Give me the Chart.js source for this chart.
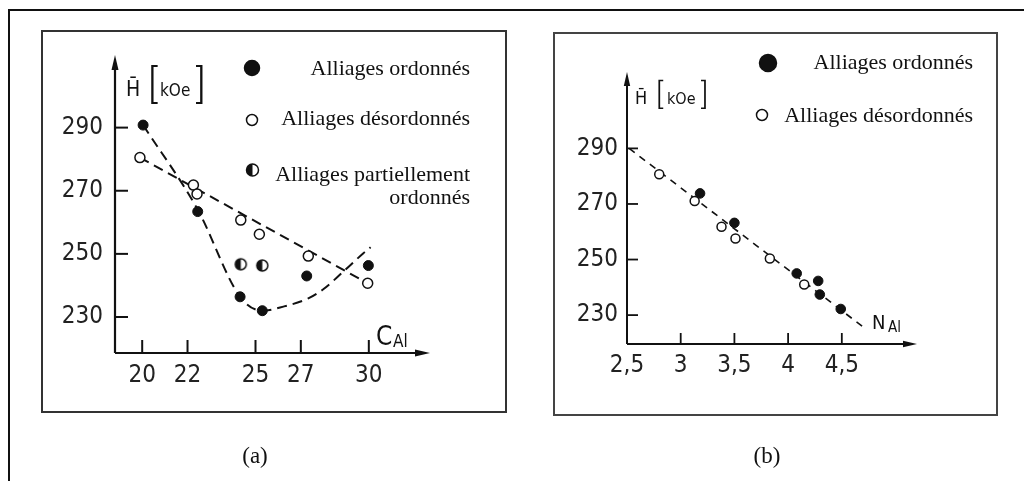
<!DOCTYPE html>
<html><head><meta charset="utf-8">
<script src="https://cdn.jsdelivr.net/npm/chart.js@4/dist/chart.umd.min.js"></script>
<style>
html,body{margin:0;padding:0;background:#fff;width:1024px;height:481px;overflow:hidden;position:relative}
.f{position:absolute;box-sizing:border-box}
canvas{position:absolute;left:0;top:0}
</style></head><body>
<div class="f" style="left:8px;top:9px;width:1016px;height:472px;border-left:2px solid #111;border-top:2px solid #111"></div>
<div class="f" style="left:41px;top:30px;width:466px;height:383px;border:2px solid #333"></div>
<div class="f" style="left:553px;top:32px;width:445px;height:384px;border:2px solid #444"></div>
<canvas id="ca" width="1024" height="481" style="width:1024px;height:481px"></canvas>
<canvas id="cb" width="1024" height="481" style="width:1024px;height:481px"></canvas>
<script>
// ---------- Panel (a) data ----------
const aTicksX = [20, 22, 25, 27, 30];
const aTickLabelsX = ['20', '22', '25', '27', '30'];
const aTicksY = [230, 250, 270, 290];
const aOrderedX = [20.04, 22.45, 24.32, 25.3, 27.26, 29.98];
const aOrderedY = [290.8, 263.4, 236.4, 232.0, 243.0, 246.3];
const aDisorderedX = [19.9, 22.26, 22.42, 24.35, 25.17, 27.33, 29.95];
const aDisorderedY = [280.5, 271.8, 269.0, 260.7, 256.2, 249.3, 240.7];
const aPartialX = [24.35, 25.3];
const aPartialY = [246.7, 246.3];
const aFitDisX = [19.9, 29.95];
const aFitDisY = [280.5, 240.7];
const aFitOrdX = [20.04, 22.45, 24.32, 25.3, 26.23, 27.33, 27.99, 28.88, 29.76, 30.08];
const aFitOrdY = [290.8, 264.0, 236.4, 232.0, 233.3, 235.9, 238.8, 244.4, 250.2, 252.1];

// ---------- Panel (b) data ----------
const bTicksX = [2.5, 3, 3.5, 4, 4.5];
const bTickLabelsX = ['2,5', '3', '3,5', '4', '4,5'];
const bTicksY = [230, 250, 270, 290];
const bOrderedX = [3.18, 3.5, 4.08, 4.28, 4.295, 4.49];
const bOrderedY = [273.8, 263.2, 245.0, 242.3, 237.4, 232.2];
const bDisorderedX = [2.80, 3.13, 3.38, 3.51, 3.83, 4.15];
const bDisorderedY = [280.7, 271.1, 261.8, 257.6, 250.4, 241.0];
const bFitX = [2.52, 4.71];
const bFitY = [290, 225.4];

const legendOrdered = 'Alliages ordonnés';
const legendDisordered = 'Alliages désordonnés';
const legendPartial1 = 'Alliages partiellement';
const legendPartial2 = 'ordonnés';

const FONT_NUM = "'DejaVu Sans Condensed','DejaVu Sans',sans-serif";
const FONT_SERIF = "'Liberation Serif','Times New Roman',serif";
const INK = '#111';

function pts(xs, ys) { return xs.map((x, i) => ({x: x, y: ys[i]})); }

function halfMarker(r) {
  const c = document.createElement('canvas');
  const s = Math.ceil(r * 2 + 4);
  c.width = s; c.height = s;
  const g = c.getContext('2d'); const m = s / 2;
  g.fillStyle = '#fff'; g.beginPath(); g.arc(m, m, r, 0, 2 * Math.PI); g.fill();
  g.fillStyle = INK; g.beginPath(); g.arc(m, m, r, Math.PI / 2, Math.PI * 1.5); g.closePath(); g.fill();
  g.strokeStyle = INK; g.lineWidth = 1.5; g.beginPath(); g.arc(m, m, r, 0, 2 * Math.PI); g.stroke();
  return c;
}

function circle(ctx, x, y, r, filled, half) {
  ctx.beginPath(); ctx.arc(x, y, r, 0, 2 * Math.PI);
  ctx.fillStyle = filled ? INK : '#fff'; ctx.fill();
  if (half) { ctx.beginPath(); ctx.arc(x, y, r, Math.PI / 2, Math.PI * 1.5); ctx.closePath(); ctx.fillStyle = INK; ctx.fill(); }
  ctx.beginPath(); ctx.arc(x, y, r, 0, 2 * Math.PI); ctx.lineWidth = 1.5; ctx.strokeStyle = INK; ctx.stroke();
}

function decor(o) {
  return {
    id: 'decor',
    afterDraw(chart) {
      const {ctx, chartArea: ca, scales: {x, y}} = chart;
      ctx.save();
      ctx.strokeStyle = INK; ctx.fillStyle = INK; ctx.lineWidth = o.axisW;
      ctx.beginPath(); ctx.moveTo(ca.left, ca.bottom); ctx.lineTo(ca.left, ca.top + o.ah - 2); ctx.stroke();
      ctx.beginPath(); ctx.moveTo(ca.left, ca.top); ctx.lineTo(ca.left - o.aw, ca.top + o.ah); ctx.lineTo(ca.left + o.aw, ca.top + o.ah); ctx.closePath(); ctx.fill();
      ctx.beginPath(); ctx.moveTo(ca.left, ca.bottom); ctx.lineTo(ca.right - o.ah + 2, ca.bottom); ctx.stroke();
      ctx.beginPath(); ctx.moveTo(ca.right, ca.bottom); ctx.lineTo(ca.right - o.ah, ca.bottom - o.aw); ctx.lineTo(ca.right - o.ah, ca.bottom + o.aw); ctx.closePath(); ctx.fill();
      ctx.lineWidth = o.tickW;
      o.xt.forEach(v => { const px = x.getPixelForValue(v); ctx.beginPath(); ctx.moveTo(px, ca.bottom); ctx.lineTo(px, ca.bottom - o.tl); ctx.stroke(); });
      o.yt.forEach(v => { const py = y.getPixelForValue(v); ctx.beginPath(); ctx.moveTo(ca.left, py); ctx.lineTo(ca.left + o.tl, py); ctx.stroke(); });
      const t = o.ytitle;
      ctx.fillStyle = INK; ctx.textBaseline = 'alphabetic'; ctx.textAlign = 'left';
      ctx.font = t.hSize + 'px ' + FONT_NUM; ctx.fillText('H\u0304', t.hx, t.base);
      ctx.font = '300 ' + t.bSize + 'px Roboto, ' + FONT_NUM;
      ctx.fillText('[', t.b1x, t.bBase); ctx.fillText(']', t.b2x, t.bBase);
      ctx.font = t.kSize + 'px ' + FONT_NUM; ctx.fillText('kOe', t.kx, t.base);
      const xt = o.xtitle;
      ctx.font = xt.mSize + 'px ' + FONT_NUM; ctx.fillText(xt.main, xt.x, xt.base);
      ctx.font = xt.sSize + 'px ' + FONT_NUM; ctx.fillText('Al', xt.sx, xt.sBase);
      ctx.font = '22px ' + FONT_SERIF; ctx.textAlign = 'right';
      o.legend.forEach(l => {
        if (l.m) circle(ctx, l.mx, l.my, l.r, l.m === 'f', l.m === 'h');
        ctx.fillStyle = INK; ctx.fillText(l.text, l.tx, l.ty);
      });
      ctx.font = '23px ' + FONT_SERIF; ctx.textAlign = 'center';
      ctx.fillText(o.caption.text, o.caption.x, o.caption.y);
      ctx.restore();
    }
  };
}

function build(id, o) {
  return new Chart(document.getElementById(id), {
    type: 'scatter',
    data: {datasets: o.datasets},
    options: {
      responsive: false, animation: false, devicePixelRatio: 1,
      layout: {padding: o.padding},
      plugins: {legend: {display: false}, tooltip: {enabled: false}},
      scales: {
        x: {type: 'linear', min: o.xmin, max: o.xmax,
          afterBuildTicks: s => { s.ticks = o.xt.map(v => ({value: v})); },
          afterFit: s => { s.height = 60; },
          ticks: {callback: v => o.xl[o.xt.indexOf(v)], font: {family: FONT_NUM, size: 24}, color: '#222', padding: o.xpad, maxRotation: 0, autoSkip: false},
          grid: {display: false, drawTicks: false}, border: {display: false}},
        y: {type: 'linear', min: o.ymin, max: o.ymax,
          afterBuildTicks: s => { s.ticks = o.yt.map(v => ({value: v})); },
          afterFit: s => { s.width = 60; },
          ticks: {font: {family: FONT_NUM, size: 24}, color: '#222', padding: o.ypad, autoSkip: false},
          grid: {display: false, drawTicks: false}, border: {display: false}}
      }
    },
    plugins: [decor(o)]
  });
}

const half = halfMarker(5.5);

build('ca', {
  padding: {left: 55, top: 55, right: 594, bottom: 68},
  xmin: 18.8, xmax: 32.7, ymin: 218.6, ymax: 313,
  xt: aTicksX, xl: aTickLabelsX, yt: aTicksY, xpad: 8, ypad: 12,
  axisW: 2.2, tickW: 2, tl: 13, ah: 15, aw: 3.5,
  ytitle: {hx: 126, hSize: 21, base: 96, b1x: 148, b2x: 196, bSize: 40, bBase: 98, kx: 160, kSize: 17},
  xtitle: {main: 'C', x: 376, base: 345, mSize: 26, sx: 393, sBase: 347, sSize: 17},
  legend: [
    {m: 'f', mx: 252, my: 68, r: 7.5, text: legendOrdered, tx: 470, ty: 75},
    {m: 'o', mx: 252, my: 120, r: 5.5, text: legendDisordered, tx: 470, ty: 125},
    {m: 'h', mx: 252.5, my: 170, r: 6, text: legendPartial1, tx: 470, ty: 181},
    {text: legendPartial2, tx: 470, ty: 204}
  ],
  caption: {text: '(a)', x: 255, y: 463},
  datasets: [
    {data: pts(aFitDisX, aFitDisY), showLine: true, borderColor: INK, borderWidth: 2, borderDash: [10, 6], pointRadius: 0, order: 10},
    {data: pts(aFitOrdX, aFitOrdY), showLine: true, borderColor: INK, borderWidth: 2, borderDash: [10, 6], pointRadius: 0, cubicInterpolationMode: 'monotone', order: 10},
    {data: pts(aOrderedX, aOrderedY), pointRadius: 5, pointBackgroundColor: INK, pointBorderColor: INK, pointBorderWidth: 1, order: 1},
    {data: pts(aDisorderedX, aDisorderedY), pointRadius: 5, pointBackgroundColor: '#fff', pointBorderColor: INK, pointBorderWidth: 1.5, order: 1},
    {data: pts(aPartialX, aPartialY), pointStyle: half, order: 1}
  ]
});

build('cb', {
  padding: {left: 567, top: 72, right: 107, bottom: 77},
  xmin: 2.5, xmax: 5.2, ymin: 219.6, ymax: 317.5,
  xt: bTicksX, xl: bTickLabelsX, yt: bTicksY, xpad: 7, ypad: 9,
  axisW: 2, tickW: 1.8, tl: 11, ah: 14, aw: 3.2,
  ytitle: {hx: 635, hSize: 18, base: 104, b1x: 656, b2x: 701, bSize: 30, bBase: 104, kx: 667, kSize: 16},
  xtitle: {main: 'N', x: 872, base: 329, mSize: 20, sx: 888, sBase: 332, sSize: 15},
  legend: [
    {m: 'f', mx: 768, my: 63, r: 8.5, text: legendOrdered, tx: 973, ty: 69},
    {m: 'o', mx: 762, my: 115, r: 5.5, text: legendDisordered, tx: 973, ty: 122}
  ],
  caption: {text: '(b)', x: 767, y: 463},
  datasets: [
    {data: pts(bFitX, bFitY), showLine: true, borderColor: INK, borderWidth: 1.6, borderDash: [7, 6], pointRadius: 0, order: 10},
    {data: pts(bOrderedX, bOrderedY), pointRadius: 4.8, pointBackgroundColor: INK, pointBorderColor: INK, pointBorderWidth: 1, order: 1},
    {data: pts(bDisorderedX, bDisorderedY), pointRadius: 4.5, pointBackgroundColor: '#fff', pointBorderColor: INK, pointBorderWidth: 1.5, order: 1}
  ]
});
</script>
</body></html>
